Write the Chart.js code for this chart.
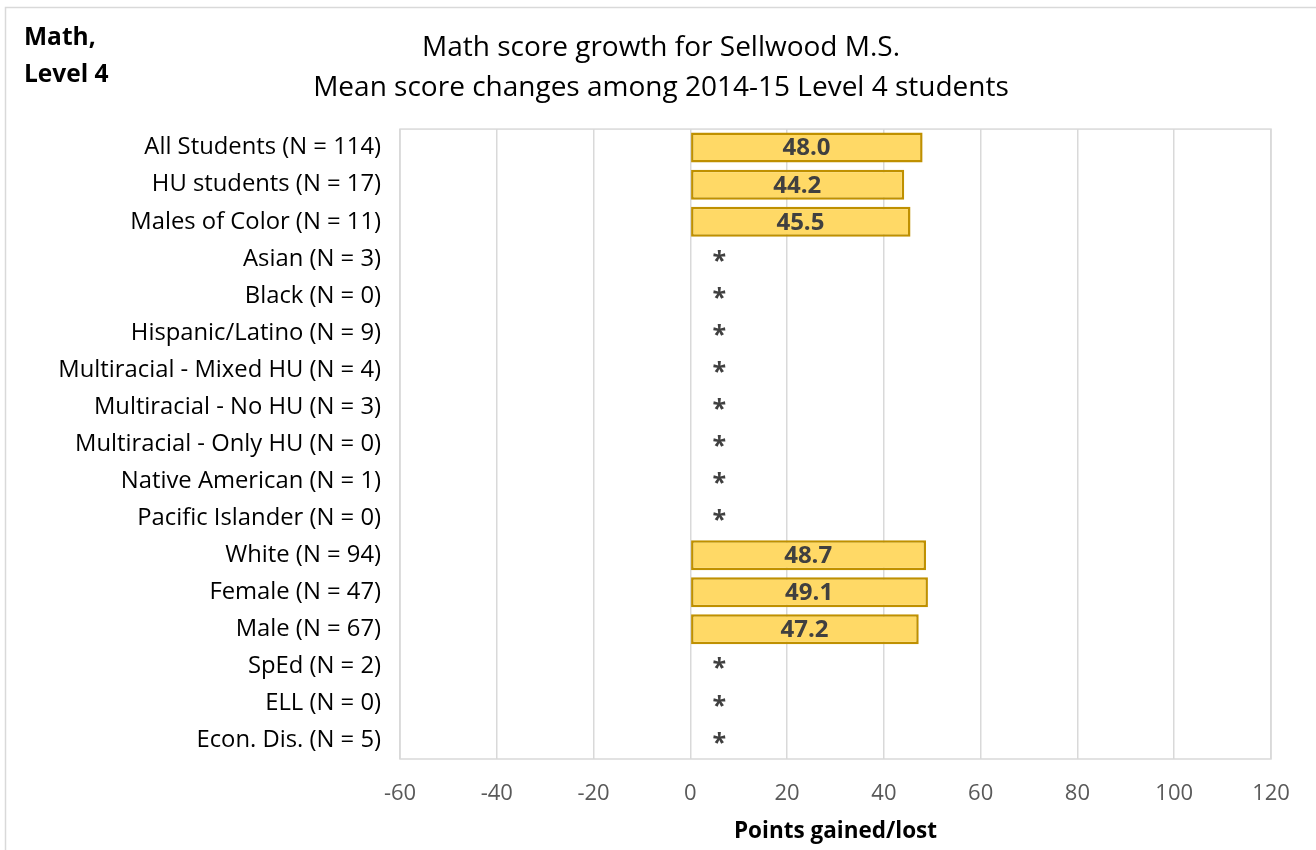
<!DOCTYPE html>
<html>
<head>
<meta charset="utf-8">
<script src="https://cdn.jsdelivr.net/npm/chart.js@4.4.1/dist/chart.umd.min.js"></script>
<style>
  html, body { margin: 0; padding: 0; background: #fff; }
  #wrap { width: 1316px; height: 850px; position: relative; }
</style>
</head>
<body>
<div id="wrap"><canvas id="c" width="1316" height="850"></canvas></div>
<script>
// categories (top to bottom)
const categories = [
  'All Students (N = 114)',
  'HU students (N = 17)',
  'Males of Color (N = 11)',
  'Asian (N = 3)',
  'Black (N = 0)',
  'Hispanic/Latino (N = 9)',
  'Multiracial - Mixed HU (N = 4)',
  'Multiracial - No HU (N = 3)',
  'Multiracial - Only HU (N = 0)',
  'Native American (N = 1)',
  'Pacific Islander (N = 0)',
  'White (N = 94)',
  'Female (N = 47)',
  'Male (N = 67)',
  'SpEd (N = 2)',
  'ELL (N = 0)',
  'Econ. Dis. (N = 5)'
];

// mean points gained; null = too few students (shown as *)
const growth = [48.0, 44.2, 45.5, null, null, null, null, null, null, null, null, 48.7, 49.1, 47.2, null, null, null];

const xMin = -60;
const xMax = 120;
const xStep = 20;
const starAt = 6; // where the * sits on the value axis

const titleLines = ['Math score growth for Sellwood M.S.', 'Mean score changes among 2014-15 Level 4 students'];
const cornerLines = ['Math,', 'Level 4'];

// frame, corner note, plot border, bar labels
const extras = {
  id: 'extras',
  beforeDraw(chart) {
    const ctx = chart.ctx;
    ctx.save();
    ctx.strokeStyle = '#d9d9d9';
    ctx.lineWidth = 1.5;
    ctx.strokeRect(5.5, 7.5, 1400, 1000);
    ctx.fillStyle = '#000';
    ctx.font = 'bold 24.5px "Open Sans"';
    ctx.textBaseline = 'middle';
    ctx.textAlign = 'left';
    ctx.fillText(cornerLines[0], 24, 38);
    ctx.fillText(cornerLines[1], 24, 75);
    ctx.restore();
  },
  afterDatasetsDraw(chart) {
    const ctx = chart.ctx;
    const a = chart.chartArea;
    const xs = chart.scales.x;
    const meta = chart.getDatasetMeta(0);
    ctx.save();
    ctx.strokeStyle = '#d9d9d9';
    ctx.lineWidth = 1.5;
    ctx.strokeRect(a.left, a.top, a.right - a.left, a.bottom - a.top);
    ctx.fillStyle = '#404040';
    ctx.textAlign = 'center';
    ctx.textBaseline = 'middle';
    growth.forEach((v, i) => {
      const y = meta.data[i].y;
      if (v === null) {
        ctx.font = 'bold 25px "Open Sans"';
        ctx.fillText('*', xs.getPixelForValue(starAt), y + 3);
      } else {
        ctx.font = 'bold 24px "Open Sans"';
        const cx = (xs.getPixelForValue(0) + xs.getPixelForValue(v)) / 2;
        ctx.fillText(v.toFixed(1), cx, y + 1);
      }
    });
    ctx.restore();
  }
};

new Chart(document.getElementById('c'), {
  type: 'bar',
  data: {
    labels: categories,
    datasets: [{
      data: growth,
      backgroundColor: '#ffd966',
      borderColor: '#bf9000',
      borderWidth: 2.5,
      borderSkipped: false,
      barPercentage: 0.81,
      categoryPercentage: 1
    }]
  },
  options: {
    indexAxis: 'y',
    responsive: false,
    animation: false,
    layout: { padding: { left: 51, right: 45, top: 9.5, bottom: 0 } },
    scales: {
      x: {
        min: xMin,
        max: xMax,
        ticks: {
          stepSize: xStep,
          color: '#595959',
          padding: 22,
          font: { family: '"Open Sans"', size: 22 }
        },
        grid: { color: '#d9d9d9', lineWidth: 1.5, drawTicks: false },
        border: { display: false },
        title: {
          display: true,
          text: 'Points gained/lost',
          color: '#000',
          padding: { top: 0, bottom: 4.5 },
          font: { family: '"Open Sans"', size: 22.5, weight: 'bold' }
        },
        afterFit(scale) { scale.height = 91; }
      },
      y: {
        ticks: {
          color: '#000',
          padding: 19,
          font: { family: '"Open Sans"', size: 23.8 }
        },
        grid: { display: false, drawTicks: false },
        border: { display: false },
        afterFit(scale) { scale.width = 349; }
      }
    },
    plugins: {
      legend: { display: false },
      tooltip: { enabled: false },
      title: {
        display: true,
        text: titleLines,
        color: '#000',
        padding: { top: 18.5, bottom: 21 },
        font: { family: '"Open Sans"', size: 28, weight: 'normal', lineHeight: 1.43 }
      }
    }
  },
  plugins: [extras]
});
</script>
</body>
</html>
